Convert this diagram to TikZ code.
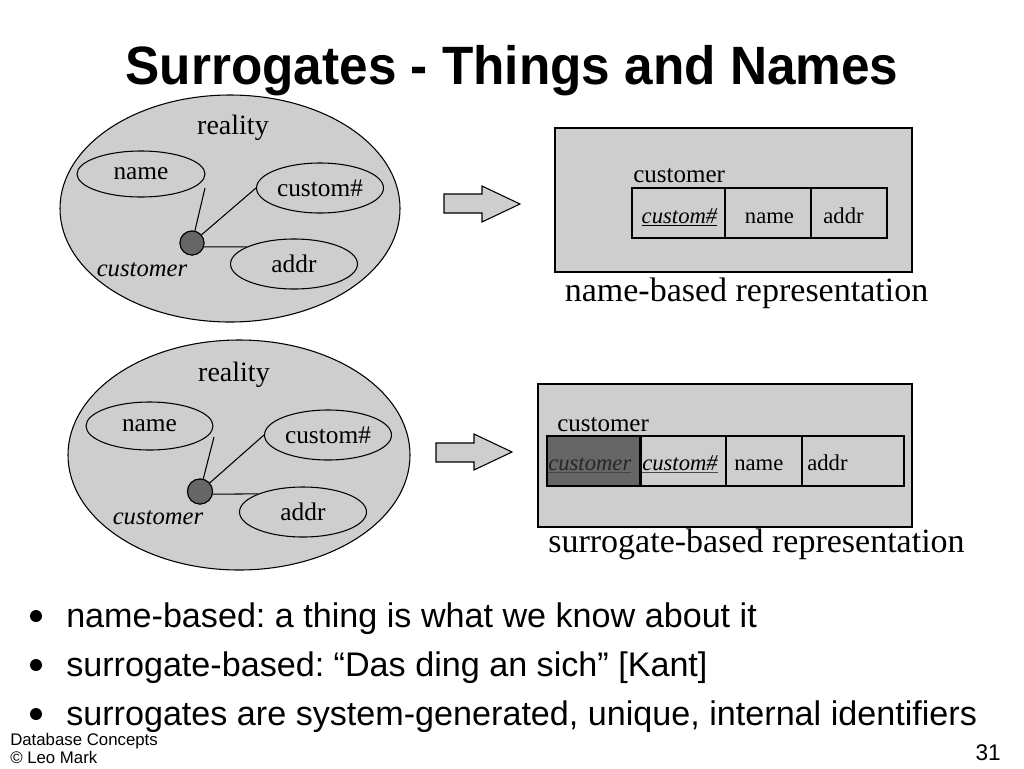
\documentclass[tikz,border=0pt]{standalone}
\usepackage{fontspec}
\setmainfont{Liberation Serif}
\newfontfamily\sansf{Liberation Sans}
\newfontfamily\titlef[FakeStretch=0.95]{Liberation Sans}
\usetikzlibrary{shapes.geometric}
\definecolor{fillgray}{RGB}{206,206,206}
\definecolor{darkfill}{RGB}{102,102,102}
\definecolor{ulgray}{RGB}{70,70,70}
\frenchspacing
\tikzset{
  ell/.style={ellipse, draw=black, fill=fillgray, line width=0.8pt, inner sep=0pt,
              font=\fontsize{19}{22}\selectfont},
  bigell/.style={ellipse, draw=black, fill=fillgray, line width=0.8pt, inner sep=0pt},
  dotnode/.style={circle, draw=black, fill=darkfill, line width=0.8pt, inner sep=0pt, minimum size=18pt},
  conn/.style={line width=0.8pt},
  boxnode/.style={rectangle, draw=black, fill=fillgray, line width=0.8pt, inner sep=0pt},
  cell/.style={rectangle, draw=black, fill=fillgray, line width=0.8pt, inner sep=0pt, minimum height=37.5pt},
  celltxt/.style={inner sep=0pt, font=\fontsize{17}{20}\selectfont},
  lbl/.style={inner sep=0pt, font=\fontsize{18.75}{22}\selectfont},
  reallbl/.style={inner sep=0pt, font=\fontsize{21}{24}\selectfont},
  caption/.style={inner sep=0pt, font=\fontsize{25.5}{30}\selectfont},
  blockarrow/.style={draw=black, fill=fillgray, line width=0.8pt, line join=miter},
  bullettxt/.style={inner sep=0pt, anchor=base west, font=\sansf\fontsize{25.6}{30}\selectfont},
  bulletdot/.style={circle, fill=black, inner sep=0pt, minimum size=9pt},
  foot/.style={inner sep=0pt, anchor=base west, font=\sansf\fontsize{12.6}{14}\selectfont}
}
\begin{document}
\begin{tikzpicture}[x=0.75pt,y=-0.75pt]
\useasboundingbox[fill=white] (0,0) rectangle (1024,768);

% title
\node[inner sep=0pt, anchor=base, font=\titlef\bfseries\fontsize{40.5}{48}\selectfont] (title) at (512,84) {Surrogates - Things and Names};

% ---------- top reality ----------
\node[bigell, minimum width=255pt, minimum height=170.25pt] (R1) at (230,208.5) {};
\node[reallbl, anchor=base] (real1) at (233,134) {reality};
\node[ell, minimum width=96pt, minimum height=34.5pt] (N1) at (141,174) {name};
\node[ell, minimum width=95.25pt, minimum height=37.5pt] (C1) at (320,188) {custom\#};
\node[ell, minimum width=95.25pt, minimum height=37.5pt] (A1) at (294,264) {addr};
\coordinate (N1t) at (205,188);
\node[dotnode] (D1) at (192,243) {};
\draw[conn] (D1) -- (N1t);
\draw[conn] (D1) -- (C1.west);
\draw[conn] (D1.-18) -- (A1.160);
\node[dotnode] (D1b) at (192,243) {};
\node[lbl, anchor=base, font=\itshape\fontsize{18.5}{22}\selectfont] (cust1) at (142,276) {customer};

% arrow 1
\draw[blockarrow] (444,194) -- (482,194) -- (482,186) -- (520,204) -- (482,222) -- (482,213) -- (444,213) -- cycle;

% box 1
\node[boxnode, minimum width=267.75pt, minimum height=108pt] (B1) at (733.5,200) {};
\node[lbl, anchor=base west] (tl1) at (633,182) {customer};
\node[cell, minimum width=69.75pt] (T1a) at (678.5,213) {};
\node[cell, minimum width=64.5pt] (T1b) at (768,213) {};
\node[cell, minimum width=57pt] (T1c) at (849,213) {};
\node[celltxt, anchor=base] (T1at) at (679.5,223) {\underline{\itshape custom\#}};
\node[celltxt, anchor=base] (T1bt) at (769.5,223) {name};
\node[celltxt, anchor=base] (T1ct) at (843.5,223) {addr};
\node[caption, anchor=base] (cap1) at (746.5,301) {name-based representation};

% ---------- bottom reality ----------
\node[bigell, minimum width=256.5pt, minimum height=172.5pt] (R2) at (239,455) {};
\node[reallbl, anchor=base] (real2) at (234,381) {reality};
\node[ell, minimum width=95.25pt, minimum height=36pt] (N2) at (149.5,426) {name};
\node[ell, minimum width=95.25pt, minimum height=37.5pt] (C2) at (328,435) {custom\#};
\node[ell, minimum width=95.25pt, minimum height=37.5pt] (A2) at (303,512) {addr};
\coordinate (N2t) at (214,437);
\node[dotnode, minimum size=18.75pt] (D2) at (200,491.5) {};
\draw[conn] (D2) -- (N2t);
\draw[conn] (D2) -- (C2.west);
\draw[conn] (D2.-12) -- (A2.158);
\node[dotnode, minimum size=18.75pt] (D2b) at (200,491.5) {};
\node[lbl, anchor=base, font=\itshape\fontsize{18.5}{22}\selectfont] (cust2) at (158,524) {customer};

% arrow 2
\draw[blockarrow] (436,443) -- (474,443) -- (474,434) -- (512,452) -- (474,470) -- (474,462) -- (436,462) -- cycle;

% box 2
\node[boxnode, minimum width=280.5pt, minimum height=107.25pt] (B2) at (725,455.5) {};
\node[lbl, anchor=base west] (tl2) at (557,431) {customer};
\node[cell, minimum width=69.75pt, fill=darkfill] (T2a) at (593.5,461) {};
\node[cell, minimum width=64.5pt] (T2b) at (683,461) {};
\node[cell, minimum width=57pt] (T2c) at (764,461) {};
\node[cell, minimum width=76.5pt] (T2d) at (853,461) {};
\draw[line width=1.6pt] (T2a.north east) -- (T2a.south east);
\node[celltxt, anchor=base west] (T2at) at (548,470) {\color{ulgray}\underline{\color{black!85}\itshape customer}};
\node[celltxt, anchor=base west] (T2bt) at (642,470) {\color{ulgray}\underline{\color{black}\itshape custom\#}};
\node[celltxt, anchor=base west] (T2ct) at (734,470) {name};
\node[celltxt, anchor=base west] (T2dt) at (807,470) {addr};
\node[caption, anchor=base] (cap2) at (756.5,552) {surrogate-based representation};

% bullets
\node[bulletdot] (b1) at (36,616) {};
\node[bulletdot] (b2) at (36,665) {};
\node[bulletdot] (b3) at (36,714) {};
\node[bullettxt] (bt1) at (66,627) {name-based: a thing is what we know about it};
\node[bullettxt] (bt2) at (66,676) {surrogate-based: “Das ding an sich” [Kant]};
\node[bullettxt] (bt3) at (66,725) {surrogates are system-generated, unique, internal identifiers};

% footer
\node[foot] (f1) at (10,745) {Database Concepts};
\node[foot] (f2) at (10,763) {© Leo Mark};
\node[inner sep=0pt, anchor=base east, font=\sansf\fontsize{17}{20}\selectfont] (pg) at (1001,760) {31};
\end{tikzpicture}
\end{document}
